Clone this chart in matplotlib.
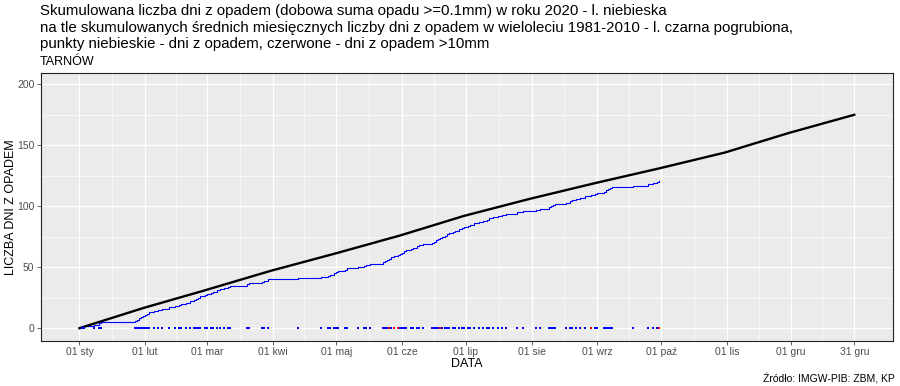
import numpy as np
import matplotlib.pyplot as plt
from matplotlib.ticker import FixedLocator

plt.rcParams['font.family'] = ['Liberation Sans', 'DejaVu Sans']

# month boundaries in 2020 (day index, 0 = 1 Jan)
tick_days = [0, 31, 60, 91, 121, 152, 182, 213, 244, 274, 305, 335, 365]
tick_labels = ["01 sty", "01 lut", "01 mar", "01 kwi", "01 maj", "01 cze", "01 lip",
               "01 sie", "01 wrz", "01 paź", "01 lis", "01 gru", "31 gru"]

# long-term (1981-2010) mean number of precipitation days per month
norm_days = [0, 30, 59, 90, 120, 151, 181, 212, 243, 273, 304, 334, 365]
norm_month = [16.5, 14.5, 16, 14, 15, 16, 14, 13, 12, 13, 16, 15]

# 2020 days with precipitation >= 0.1 mm (day index)
rain_days = [1, 2, 7, 9, 10,
             26, 27, 28, 29, 30, 31, 32, 33,
             35, 37, 39, 42, 45,
             47, 48, 50, 52, 54, 55, 56, 57,
             59, 60, 62, 63, 65, 66,
             68, 70, 71,
             79, 80, 86, 87, 89,
             103,
             114, 117, 118, 120, 121, 122, 125, 126,
             131, 134, 135, 137,
             143, 144, 145, 146, 147, 148, 150,
             151, 152, 153, 154,
             156, 157, 159, 160,
             162,
             166, 167, 168, 169, 170, 171, 172, 173, 174,
             176, 177, 179, 180, 181,
             183, 184, 186, 188,
             190, 192, 193,
             195, 197, 199, 201,
             206, 209,
             215, 217,
             221, 222, 223, 224,
             229, 231, 232,
             234, 236, 238, 241, 243,
             244, 247, 248, 249, 250, 251,
             261, 268,
             270, 272, 273]
# days with precipitation > 10 mm
heavy_days = [146, 148, 150, 170, 241, 273]
last_day = 273

days = np.arange(0, last_day + 1)
cum_rain = np.cumsum(np.isin(days, rain_days))
cum_norm = np.concatenate([[0], np.cumsum(norm_month)])

fig = plt.figure(figsize=(9, 3.86), dpi=100)
ax = fig.add_axes([40.7 / 900, 1 - 341 / 386, (893 - 40.7) / 900, (341 - 72.7) / 386])
ax.set_facecolor("#EBEBEB")

ax.step(days, cum_rain, where="post", color="blue", lw=0.8, zorder=3)
ax.plot(norm_days, cum_norm, color="black", lw=1.7, zorder=4)
ax.scatter(rain_days, np.zeros(len(rain_days)), s=2.5, marker="s", color="blue", lw=0, zorder=5)
ax.scatter(heavy_days, np.zeros(len(heavy_days)), s=2.5, marker="s", color="red", lw=0, zorder=6)

ax.set_xlim(-18.25, 383.25)
ax.set_ylim(-10.5, 209.5)
ax.set_xticks(tick_days)
ax.set_xticklabels(tick_labels)
ax.set_yticks([0, 50, 100, 150, 200])
minor_x = [(a + b) / 2 for a, b in zip(tick_days[:-1], tick_days[1:])]
ax.xaxis.set_minor_locator(FixedLocator(minor_x))
ax.yaxis.set_minor_locator(FixedLocator([25, 75, 125, 175]))
ax.grid(True, which="major", color="white", lw=0.9)
ax.grid(True, which="minor", color="white", lw=0.45)
ax.set_axisbelow(True)
ax.tick_params(which="major", labelsize=7.5, colors="#4D4D4D", length=3, width=0.6, pad=1.5)
ax.tick_params(which="minor", length=0)
for s in ax.spines.values():
    s.set_color("#222222")
    s.set_linewidth(0.8)

ax.set_xlabel("DATA", fontsize=9)
ax.set_ylabel("LICZBA DNI Z OPADEM", fontsize=9)
ax.yaxis.set_label_coords(-0.0275, 0.5)
ax.xaxis.set_label_coords(0.5, -0.063)

title_lines = [
    "Skumulowana liczba dni z opadem (dobowa suma opadu >=0.1mm) w roku 2020 - l. niebieska",
    "na tle skumulowanych średnich miesięcznych liczby dni z opadem w wieloleciu 1981-2010 - l. czarna pogrubiona,",
    "punkty niebieskie - dni z opadem, czerwone - dni z opadem >10mm",
]
fig.text(40 / 900, 1 - 4.5 / 386, "\n".join(title_lines), fontsize=10.85, va="top", ha="left",
         linespacing=1.22)
fig.text(40 / 900, 1 - 56 / 386, "TARNÓW", fontsize=9, va="top", ha="left")
fig.text(895 / 900, 1 - 384 / 386, "Źródło: IMGW-PIB: ZBM, KP", fontsize=7.5, va="bottom", ha="right")

fig.savefig("out.png", dpi=100)
